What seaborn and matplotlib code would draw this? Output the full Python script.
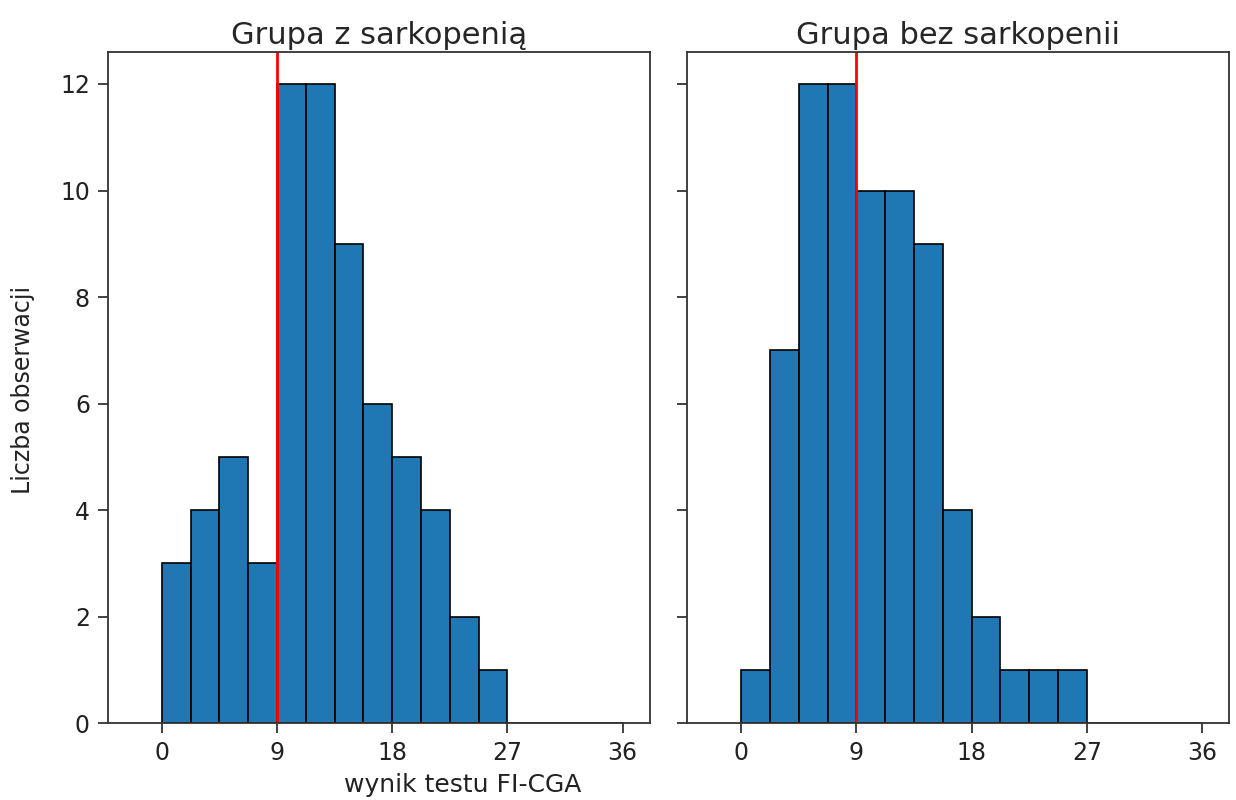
import numpy as np
import pandas as pd
import matplotlib
matplotlib.use("Agg")
import matplotlib.pyplot as plt
import seaborn as sns

# Data
bin_edges = [0, 2.25, 4.5, 6.75, 9, 11.25, 13.5, 15.75, 18, 20.25, 22.5, 24.75, 27, 29.25, 31.5, 33.75, 36]
counts_sarc = [3, 4, 5, 3, 12, 12, 9, 6, 5, 4, 2, 1, 0, 0, 0, 0]
counts_nosarc = [1, 7, 12, 12, 10, 10, 9, 4, 2, 1, 1, 1, 0, 0, 0, 0]
titles = ["Grupa z sarkopenią", "Grupa bez sarkopenii"]
cutoff = 9
x_ticks = [0, 9, 18, 27, 36]
y_ticks = [0, 2, 4, 6, 8, 10, 12]

sns.set_style("ticks")
plt.rcParams['font.family'] = ['DejaVu Sans']

centers = [(a + b) / 2 for a, b in zip(bin_edges[:-1], bin_edges[1:])]
df = pd.DataFrame({
    "score": centers * 2,
    "count": counts_sarc + counts_nosarc,
    "group": [titles[0]] * len(centers) + [titles[1]] * len(centers),
})

fig, axes = plt.subplots(1, 2, figsize=(12.36, 8), dpi=100, sharey=True)
fig.subplots_adjust(left=0.0874, right=0.9943, bottom=0.096, top=0.935, wspace=0.07)

for ax, title in zip(axes, titles):
    sub = df[df["group"] == title]
    sns.histplot(data=sub, x="score", weights="count", bins=bin_edges, ax=ax,
                 color="#1f77b4", edgecolor="black", linewidth=1.2, alpha=1.0)
    ax.axvline(cutoff, color="red", linewidth=2)
    ax.set_title(title, fontsize=22, pad=6)
    ax.set_xticks(x_ticks)
    ax.set_yticks(y_ticks)
    ax.set_xlim(-4.2, 38.1)
    ax.tick_params(labelsize=17, length=7, width=1.2, pad=6, colors="#222222")
    ax.set_xlabel("")
    ax.set_ylabel("")
    for s in ax.spines.values():
        s.set_visible(True)
        s.set_color("#333333")
        s.set_linewidth(1.3)

fig.text(0.019, 0.513, "Liczba obserwacji", rotation=90, ha="center", va="center",
         fontsize=17, color="#222222")
fig.text(0.3745, 0.034, "wynik testu FI-CGA", ha="center", va="top", fontsize=18,
         color="#222222")

fig.savefig("out.png", dpi=100)
